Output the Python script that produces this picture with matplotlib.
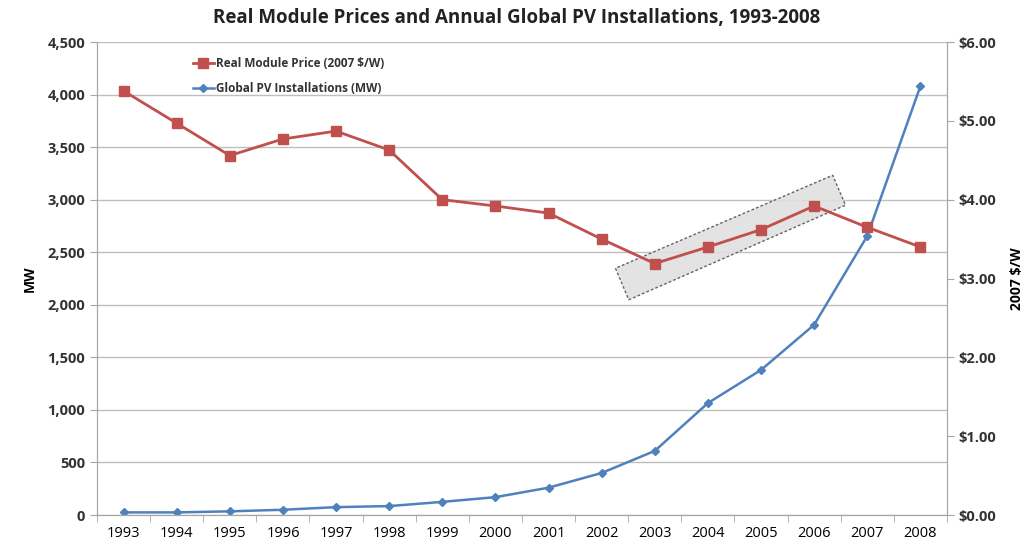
import matplotlib
matplotlib.use("Agg")
import matplotlib.pyplot as plt
from matplotlib.patches import Polygon
from matplotlib.ticker import FuncFormatter, MultipleLocator

years = ["1993", "1994", "1995", "1996", "1997", "1998", "1999", "2000",
         "2001", "2002", "2003", "2004", "2005", "2006", "2007", "2008"]
price = [5.38, 4.97, 4.56, 4.77, 4.87, 4.63, 4.00, 3.92,
         3.83, 3.50, 3.19, 3.40, 3.62, 3.92, 3.65, 3.40]
installs = [25, 25, 35, 50, 75, 85, 125, 170,
            260, 400, 610, 1065, 1380, 1810, 2655, 4080]

red = "#C0504D"
blue = "#4F81BD"
gray = "#A6A6A6"

plt.rcParams['font.family'] = ['Open Sans', 'DejaVu Sans']

fig = plt.figure(figsize=(10.33, 5.5), dpi=100)
ax = fig.add_axes([0.0939, 0.0636, 0.8228, 0.86])
ax2 = ax.twinx()

x = list(range(len(years)))
l2, = ax.plot(x, installs, color=blue, marker="D", markersize=4, linewidth=1.8,
              label="Global PV Installations (MW)")
l1, = ax2.plot(x, price, color=red, marker="s", markersize=6.5, linewidth=2,
               label="Real Module Price (2007 $/W)")

ax.set_xlim(-0.45, len(years) - 0.55)
ax.set_ylim(0, 4500)
ax2.set_ylim(0, 6)
ax.yaxis.set_major_locator(MultipleLocator(500))
ax2.yaxis.set_major_locator(MultipleLocator(1))
ax.yaxis.set_major_formatter(FuncFormatter(lambda v, p: f"{int(v):,}"))
ax2.yaxis.set_major_formatter(FuncFormatter(lambda v, p: f"${v:.2f}"))
ax.grid(axis="y", color="#BFBFBF", linewidth=1)
ax.set_axisbelow(True)

ax.set_xticks(x)
ax.set_xticklabels(years, fontsize=10.5)
ax.set_xticks([i - 0.5 for i in range(len(years) + 1)], minor=True)
ax.tick_params(axis="x", which="major", length=0, pad=8)
ax.tick_params(axis="x", which="minor", length=5, color=gray)
ax.tick_params(axis="y", length=5, color=gray, labelsize=10.5)
ax2.tick_params(axis="y", length=5, color=gray, labelsize=10.5)
for lab in ax.get_yticklabels() + ax2.get_yticklabels():
    lab.set_fontweight("bold")
    lab.set_color("#333333")

for a in (ax, ax2):
    a.spines["top"].set_visible(False)
    for s in ("left", "right", "bottom"):
        a.spines[s].set_color(gray)

ax.set_ylabel("MW", fontsize=10, fontweight="bold", labelpad=8)
ax2.set_ylabel("2007 $/W", fontsize=10, fontweight="bold", labelpad=10)

fig.suptitle("Real Module Prices and Annual Global PV Installations, 1993-2008",
             fontsize=13.5, fontweight="bold", y=0.985, color="#222222")

# highlighted box around 2003-2006 price rise (data coords of price axis)
box_x = [9.26, 9.51, 13.59, 13.35]
box_y = [3.13, 2.73, 3.93, 4.31]
poly = Polygon(list(zip(box_x, box_y)), closed=True, facecolor="#E0E0E0",
               edgecolor="#555555", linestyle=(0, (2, 1.5)), linewidth=1,
               alpha=0.9, zorder=1)
ax2.add_patch(poly)

leg = ax2.legend(handles=[l1, l2], loc="upper left", bbox_to_anchor=(0.1, 0.99),
                 frameon=False, fontsize=8.5, handlelength=1.8, handletextpad=0.2,
                 labelspacing=1.0)
for t in leg.get_texts():
    t.set_fontweight("bold")
    t.set_color("#333333")

fig.savefig("out.png", dpi=100)
